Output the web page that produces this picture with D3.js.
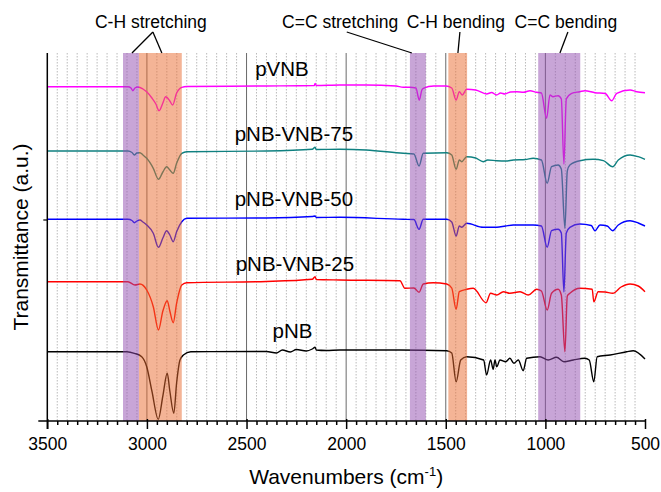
<!DOCTYPE html>
<html lang="en">
<head>
<meta charset="utf-8"/>
<title>FTIR spectra</title>
<script src="https://d3js.org/d3.v7.min.js"></script>
<style>
  body { margin: 0; background: #fff; }
  text { font-family: Arial, "Liberation Sans", sans-serif; fill: #000; }
  .minor line { stroke: #a8a8a8; stroke-width: 0.8; stroke-dasharray: 1.5,1.5; }
  .major line { stroke: #444; stroke-width: 0.8; }
</style>
</head>
<body>
<div id="chart"></div>
<script>
// wavenumber ticks (cm-1)
var majorTicks = [3500, 3000, 2500, 2000, 1500, 1000, 500];
var minorTicks = d3.range(3450, 500, -50).filter(function(d) { return d % 500 !== 0; });

// spectra, transmittance in arbitrary units (already stacked)
var pNB_wn = [3500,3100,3063,3026,3001,2975,2943,2920,2898,2885,2865,2851,2834,2817,2780,2400,2350,2320,2280,2250,2200,2170,2156,2150,2100,2031,1730,1495,1470,1448,1425,1395,1310,1295,1275,1262,1253,1244,1228,1199,1178,1158,1136,1111,1094,1027,986,944,907,860,802,780,757,740,675,592,559,500];
var pNB_t  = [69.3,69.3,67.7,64.3,54.3,30,1.7,25,47.7,30,7.7,38,61,66,69.3,69.5,68,71,69,71.5,70,72,73.7,71,70.5,71,71,70.3,68,39.3,61,64.3,61,46,61,51.7,61,54.3,61,59.3,62.7,57.7,61,50.3,62.7,64.3,61,63.7,59.3,61,62.7,61,39.3,64.3,66,69.3,70.3,62];

var vnb25_wn = [3500,3095,3060,3035,3001,2968,2942,2920,2898,2885,2868,2851,2825,2800,2400,2170,2156,2150,2031,1730,1705,1660,1634,1613,1563,1495,1470,1448,1432,1395,1362,1298,1275,1244,1211,1178,1127,1086,1044,1020,991,969,936,920,902,890,877,827,765,757,735,700,662,620,575,534,500];
var vnb25_t  = [139.3,139.3,136,137,131,114.3,91,110,120.3,110,98.3,117.7,136,138.3,139.5,141.7,144.3,141.5,141,140.3,132.7,133,128.7,137,138.3,137,133,111.7,129.3,131.7,132.7,118.3,127.7,126,129.3,127.7,129.3,126,131.7,130,111,127.7,131.7,126,69.3,125,127.7,132.7,131.7,119.3,129.3,129,127.7,134,137,135,129.3];

var vnb50_wn = [3500,3095,3075,3063,3050,3035,3020,3001,2968,2942,2920,2901,2885,2868,2851,2825,2800,2400,2170,2156,2150,2031,1713,1660,1634,1613,1495,1470,1448,1432,1420,1395,1312,1244,1200,1161,1061,1020,991,969,936,920,907,895,877,827,770,751,726,690,662,634,575,534,500];
var vnb50_t  = [201.7,201.7,200.5,198.3,200,201,199,196,187.7,173.7,183,190.3,186,179.3,189.3,199.3,202.7,203,204.5,205,203.5,203.7,201.7,201.5,191.7,201.7,201.7,199,185,195,193.7,197.7,193.7,193.7,195,196,196,195,173.7,190.3,191.7,188,129,188,193.7,197,195.5,190.3,196,195,190.3,196,200.3,198,195];

var vnb75_wn = [3500,3095,3075,3063,3050,3035,3020,3001,2968,2942,2920,2901,2885,2868,2851,2825,2800,2400,2170,2156,2150,2031,1900,1713,1660,1634,1613,1495,1470,1448,1432,1420,1395,1350,1312,1290,1244,1200,1161,1100,1061,1020,991,969,936,920,902,890,877,827,760,709,662,634,575,534,500];
var vnb75_t  = [270,270,268.5,266,268,268.3,266,262.7,252.7,241.7,249,254.3,251,247.7,257.7,267.7,269.3,270,271.7,273.7,271.5,271.7,271,267.7,267,255,267.7,268.3,266,251.7,261,259.3,264.3,263,259.3,261,260.3,260,261,261.5,262.7,261,237.7,254.3,256,252,192.7,250,256,260.3,261.7,260.3,254.3,261,266,264.3,261.7];

var pVNB_wn = [3500,3095,3080,3071,3060,3045,3020,3000,2975,2955,2939,2920,2906,2885,2871,2851,2835,2825,2800,2400,2160,2156,2150,2031,1900,1750,1713,1680,1650,1633,1620,1613,1560,1499,1470,1448,1432,1417,1395,1350,1295,1270,1245,1225,1203,1175,1144,1110,1077,1044,1020,994,977,962,936,920,907,895,868,827,802,751,700,667,642,575,542,500];
var pVNB_t  = [334.3,334.3,333,330.3,333,334,332,329,323,317,310.3,318,324.3,320,316,328,332.5,333.7,334.5,335,335.5,337.5,335.5,336,336,335,333.7,333.7,333,321,331,332.7,335,335,333,321,329.3,326,331.7,331,327,328.5,326,328,327,329,329.3,328.7,330.3,328.7,328,302.7,326,324.3,325.3,322,257,322,327.7,329.3,330.3,328.3,327.5,320.3,327.7,331,329.3,328.3];

var seriesNames  = ["pNB", "pNB-VNB-25", "pNB-VNB-50", "pNB-VNB-75", "pVNB"];
var seriesColors = ["#000000", "#ff0000", "#0000ff", "#0f8080", "#ff00ff"];
var seriesWn = [pNB_wn, vnb25_wn, vnb50_wn, vnb75_wn, pVNB_wn];
var seriesT  = [pNB_t, vnb25_t, vnb50_t, vnb75_t, pVNB_t];
// label anchor (wavenumber, transmittance)
var labelWn = [2269, 2257, 2262, 2262, 2322];
var labelT  = [83, 150, 215, 280, 345];

// highlighted bands
var bandFrom  = [3120, 3040, 1680, 1487, 1036];
var bandTo    = [3040, 2825, 1600, 1393, 825];
var bandColor = ["#914baf", "#e9692d", "#914baf", "#e9692d", "#914baf"];

// assignments above the plot
var notes   = ["C-H stretching", "C=C stretching", "C-H bending", "C=C bending"];
var noteWn  = [2980, 2030, 1449, 897];
var leaders = [[[2970, 3075], [2970, 2925]], [[1997, 1670]], [[1429, 1439]], [[887, 927]]];

var width = 661, height = 492;
var tTop = 368;

var x = d3.scaleLinear().domain([3500, 500]).range([47.3, 645]);
var y = d3.scaleLinear().domain([0, tTop]).range([421, 53]);

var svg = d3.select("#chart").append("svg")
    .attr("width", width)
    .attr("height", height);

// grid
svg.append("g").attr("class", "minor")
  .selectAll("line").data(minorTicks).enter().append("line")
    .attr("x1", function(d) { return x(d); }).attr("x2", function(d) { return x(d); })
    .attr("y1", y(tTop)).attr("y2", y(0));

svg.append("g").attr("class", "major")
  .selectAll("line").data(majorTicks.slice(1, -1)).enter().append("line")
    .attr("x1", function(d) { return x(d); }).attr("x2", function(d) { return x(d); })
    .attr("y1", y(tTop)).attr("y2", y(0));

// spectra
var line = d3.line()
    .x(function(d) { return x(d[0]); })
    .y(function(d) { return y(d[1]); })
    .curve(d3.curveMonotoneX);

svg.append("g")
  .selectAll("path")
  .data(seriesNames.map(function(n, i) { return d3.zip(seriesWn[i], seriesT[i]); }))
  .enter().append("path")
    .attr("d", line)
    .attr("fill", "none")
    .attr("stroke", function(d, i) { return seriesColors[i]; })
    .attr("stroke-width", 1.4)
    .attr("stroke-linejoin", "round");

// bands lie over the traces, half transparent
svg.append("g")
  .selectAll("rect").data(bandFrom).enter().append("rect")
    .attr("x", function(d) { return x(d); })
    .attr("width", function(d, i) { return x(bandTo[i]) - x(d); })
    .attr("y", y(tTop))
    .attr("height", y(0) - y(tTop))
    .attr("fill", function(d, i) { return bandColor[i]; })
    .attr("opacity", 0.5);

// x axis
var gx = svg.append("g")
    .attr("transform", "translate(0," + y(0) + ")")
    .call(d3.axisBottom(x).tickValues(majorTicks).tickSize(8).tickFormat(d3.format("d")));
gx.select(".domain").remove();
gx.selectAll(".tick line").attr("y1", -2).attr("stroke-width", 1.5);
gx.selectAll(".tick text").attr("font-size", 17.5).attr("y", 16.5)
    .attr("font-family", "Arial, 'Liberation Sans', sans-serif");

var gxm = svg.append("g")
    .attr("transform", "translate(0," + y(0) + ")")
    .call(d3.axisBottom(x).tickValues(minorTicks).tickSize(4).tickFormat(""));
gxm.select(".domain").remove();
gxm.selectAll(".tick line").attr("stroke-width", 1.5);

svg.append("line")
    .attr("x1", x(3500) - 9).attr("x2", x(500))
    .attr("y1", y(0)).attr("y2", y(0))
    .attr("stroke", "#000").attr("stroke-width", 1.5);

// y axis
svg.append("line")
    .attr("x1", x(3500)).attr("x2", x(3500))
    .attr("y1", y(tTop)).attr("y2", y(0) + 8)
    .attr("stroke", "#000").attr("stroke-width", 1.5);
svg.append("line")
    .attr("x1", x(3500) - 4).attr("x2", x(3500))
    .attr("y1", y(201)).attr("y2", y(201))
    .attr("stroke", "#000").attr("stroke-width", 1.2);

// series labels
svg.append("g")
  .selectAll("text").data(seriesNames).enter().append("text")
    .attr("x", function(d, i) { return x(labelWn[i]); })
    .attr("y", function(d, i) { return y(labelT[i]); })
    .attr("text-anchor", "middle")
    .attr("font-size", 20.5)
    .text(function(d) { return d; });

// band notes and leader lines
svg.append("g")
  .selectAll("text").data(notes).enter().append("text")
    .attr("x", function(d, i) { return x(noteWn[i]); })
    .attr("y", y(tTop + 25))
    .attr("text-anchor", "middle")
    .attr("font-size", 17.5)
    .text(function(d) { return d; });

leaders.forEach(function(segs) {
  segs.forEach(function(s) {
    svg.append("line")
        .attr("x1", x(s[0])).attr("y1", y(tTop + 21))
        .attr("x2", x(s[1])).attr("y2", y(tTop))
        .attr("stroke", "#000").attr("stroke-width", 1.3);
  });
});

// axis titles
var xt = svg.append("text")
    .attr("x", x(2000)).attr("y", 484)
    .attr("text-anchor", "middle")
    .attr("font-size", 21);
xt.append("tspan").text("Wavenumbers (cm");
xt.append("tspan").attr("font-size", 13).attr("dy", -8).text("-1");
xt.append("tspan").attr("dy", 8).text(")");

svg.append("text")
    .attr("transform", "translate(28,237) rotate(-90)")
    .attr("text-anchor", "middle")
    .attr("font-size", 21)
    .text("Transmittance (a.u.)");
</script>
</body>
</html>
